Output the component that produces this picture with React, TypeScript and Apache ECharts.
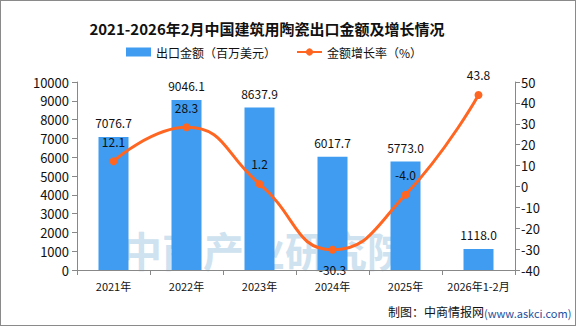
import React, { useEffect, useRef } from "react";
import * as echarts from "echarts";

const categories = ["2021年", "2022年", "2023年", "2024年", "2025年", "2026年1-2月"];
const exportValues = [7076.7, 9046.1, 8637.9, 6017.7, 5773.0, 1118.0];
const growthRates = [12.1, 28.3, 1.2, -30.3, -4.0, 43.8];
const leftTicks = { min: 0, max: 10000, interval: 1000 };
const rightTicks = { min: -40, max: 50, interval: 10 };

const FONT = '"Noto Sans CJK SC", sans-serif';

export default function App() {
  const ref = useRef<HTMLDivElement>(null);
  useEffect(() => {
    document.body.style.margin = "0";
    const chart = echarts.init(ref.current!, null, { renderer: "svg" });
    chart.setOption({
      animation: false,
      backgroundColor: "#ffffff",
      textStyle: { fontFamily: FONT },
      title: {
        text: "2021-2026年2月中国建筑用陶瓷出口金额及增长情况",
        left: 261,
        textAlign: "center",
        top: 15,
        textStyle: { fontSize: 15, fontWeight: "bold", color: "#111", fontFamily: FONT },
      },
      legend: {
        top: 40,
        left: 120,
        itemWidth: 25,
        itemHeight: 9,
        itemGap: 20,
        textStyle: { fontSize: 12, color: "#111", fontFamily: FONT },
        data: [
          { name: "出口金额（百万美元）", icon: "rect" },
          { name: "金额增长率（%）" },
        ],
      },
      graphic: [
        {
          type: "text",
          left: 120,
          top: 227,
          z: 0,
          silent: true,
          style: {
            text: "中商产业研究院",
            fontSize: 41,
            lineHeight: 41,
            fontWeight: "bold",
            fill: "#cfe2ef",
            fontFamily: FONT,
            letterSpacing: 6,
          },
        },
        {
          type: "text",
          left: 387,
          top: 304,
          style: {
            text: "制图：中商情报网",
            fontSize: 12,
            fill: "#111",
            fontFamily: FONT,
          },
        },
        {
          type: "text",
          left: 483,
          top: 306,
          style: {
            text: "(www.askci.com)",
            fontSize: 11,
            fill: "#1f4f9c",
            fontFamily: FONT,
          },
        },
      ],
      grid: { left: 76, right: 60, top: 81, bottom: 55 },
      xAxis: {
        type: "category",
        data: categories,
        axisLine: { lineStyle: { color: "#888" } },
        axisTick: { show: true, alignWithLabel: false, lineStyle: { color: "#888" } },
        axisLabel: { color: "#111", fontSize: 11, margin: 10, interval: 0, fontFamily: FONT },
      },
      yAxis: [
        {
          type: "value",
          min: leftTicks.min,
          max: leftTicks.max,
          interval: leftTicks.interval,
          axisLine: { show: true, lineStyle: { color: "#888" } },
          axisTick: { show: true, lineStyle: { color: "#888" } },
          splitLine: { show: false },
          axisLabel: {
            color: "#111",
            fontSize: 13,
            margin: 8,
            fontFamily: FONT,
            formatter: (v: number) => String(v),
          },
        },
        {
          type: "value",
          min: rightTicks.min,
          max: rightTicks.max,
          interval: rightTicks.interval,
          position: "right",
          axisLine: { show: true, lineStyle: { color: "#888" } },
          axisTick: { show: true, lineStyle: { color: "#888" } },
          splitLine: { show: false },
          axisLabel: {
            color: "#111",
            fontSize: 13,
            margin: 6,
            fontFamily: FONT,
            formatter: (v: number) => String(v),
          },
        },
      ],
      series: [
        {
          name: "出口金额（百万美元）",
          type: "bar",
          data: exportValues,
          barWidth: 30,
          itemStyle: { color: "#3f9cf0" },
          label: {
            show: true,
            position: "top",
            distance: 8,
            color: "#111",
            fontSize: 12,
            formatter: (p: any) => Number(p.value).toFixed(1),
            fontFamily: FONT,
          },
          z: 2,
        },
        {
          name: "金额增长率（%）",
          type: "line",
          yAxisIndex: 1,
          smooth: true,
          data: growthRates.map((v) => ({
            value: v,
            label: { position: v < -20 ? "bottom" : "top" },
          })),
          symbol: "circle",
          symbolSize: 8,
          lineStyle: { color: "#ff6622", width: 3 },
          itemStyle: { color: "#ff6622" },
          label: {
            show: true,
            distance: 10,
            color: "#111",
            fontSize: 12,
            formatter: (p: any) => Number(p.value).toFixed(1),
            fontFamily: FONT,
          },
          z: 3,
        },
      ],
    });
    return () => chart.dispose();
  }, []);
  return (
    <div
      ref={ref}
      style={{ width: 576, height: 326, boxSizing: "border-box", border: "1px solid #8a8a8a" }}
    />
  );
}
